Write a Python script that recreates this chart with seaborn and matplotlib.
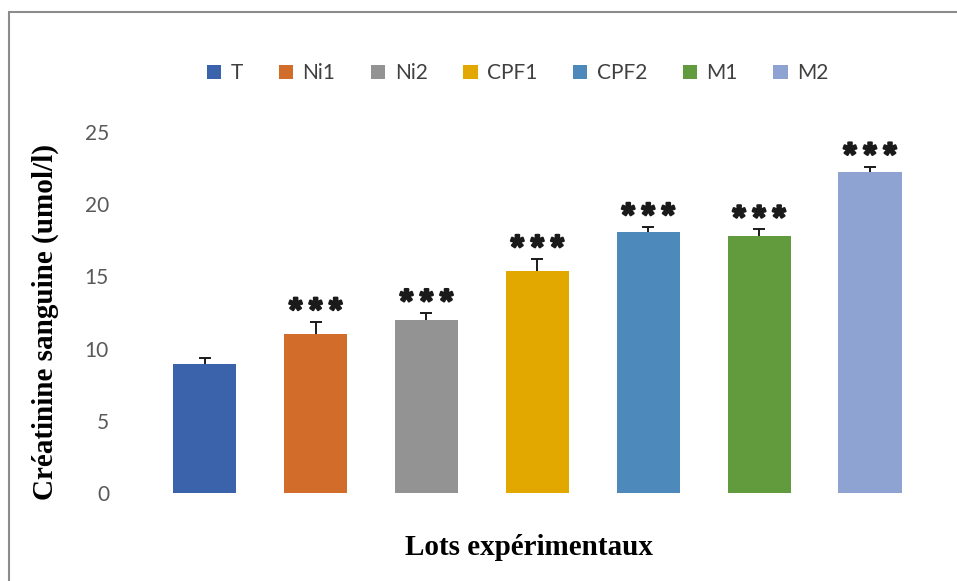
import matplotlib
matplotlib.use("Agg")
import matplotlib.pyplot as plt
import matplotlib.patheffects as pe
from matplotlib.patches import Rectangle, Patch
import seaborn as sns
import pandas as pd

# Experimental groups and blood creatinine (umol/l)
groups = ["T", "Ni1", "Ni2", "CPF1", "CPF2", "M1", "M2"]
means = [8.9, 11.0, 12.0, 15.4, 18.1, 17.8, 22.2]
errors = [0.45, 0.85, 0.45, 0.8, 0.32, 0.45, 0.4]
signif = ["", "***", "***", "***", "***", "***", "***"]
colors = ["#3B63AB", "#D26C2A", "#939393", "#E2A800", "#4E89BC", "#629A3E", "#8FA3D3"]
yticks = [0, 5, 10, 15, 20, 25]

df = pd.DataFrame({"lot": groups, "creat": means})

sns.set_theme(style="white")
plt.rcParams["font.family"] = ["Lato", "DejaVu Sans"]

fig = plt.figure(figsize=(9.57, 5.81), dpi=100)
ax = fig.add_axes([0.156, 0.1515, 0.811, 0.6213])

sns.barplot(data=df, x="lot", y="creat", hue="lot", palette=colors,
            width=0.57, legend=False, ax=ax, saturation=1, edgecolor="none")

# upper error bars only (hide the lower caps)
xs = list(range(len(groups)))
eb = ax.errorbar(xs, means, yerr=[[0] * len(errors), errors], fmt="none",
                 ecolor="#1a1a1a", elinewidth=1.4, capsize=4.5, capthick=1.4, zorder=3)
eb[1][0].set_visible(False)

# significance stars, slightly thickened
for x, m, e, s in zip(xs, means, errors, signif):
    if s:
        ax.text(x, m + e, s, ha="center", va="baseline",
                fontsize=24, fontweight="bold", family="Liberation Mono",
                color="#1a1a1a",
                path_effects=[pe.withStroke(linewidth=1.6, foreground="#1a1a1a")])

ax.set_ylim(0, 25)
ax.set_xlim(-0.5, len(groups) - 0.5)
ax.set_yticks(yticks)
ax.set_yticklabels([str(v) for v in yticks], fontsize=15, color="#595959")
ax.set_xticks([])
ax.tick_params(axis="y", length=0, pad=29)
sns.despine(ax=ax, left=True, bottom=True)
ax.set_xlabel("")
ax.set_ylabel("Créatinine sanguine (umol/l)", family="Liberation Serif",
              fontsize=21, fontweight="bold", color="black")
ax.yaxis.set_label_coords(-0.116, 0.475)

fig.text(0.553, 0.057, "Lots expérimentaux", ha="center", va="center",
         family="Liberation Serif", fontsize=21, fontweight="bold", color="black")

handles = [Patch(facecolor=c, edgecolor="none") for c in colors]
fig.legend(handles, groups, loc="center", bbox_to_anchor=(0.541, 0.874), ncol=7,
           frameon=False, fontsize=15, handlelength=0.7, handleheight=0.7,
           handletextpad=0.45, columnspacing=1.7, labelcolor="#404040")

# outer chart frame
fig.patches.append(Rectangle((9 / 957, -0.1), 1.2, 1 - 12 / 581 + 0.1,
                             transform=fig.transFigure, fill=False,
                             edgecolor="#8c8c8c", linewidth=1.5))

fig.savefig("out.png", dpi=100)
